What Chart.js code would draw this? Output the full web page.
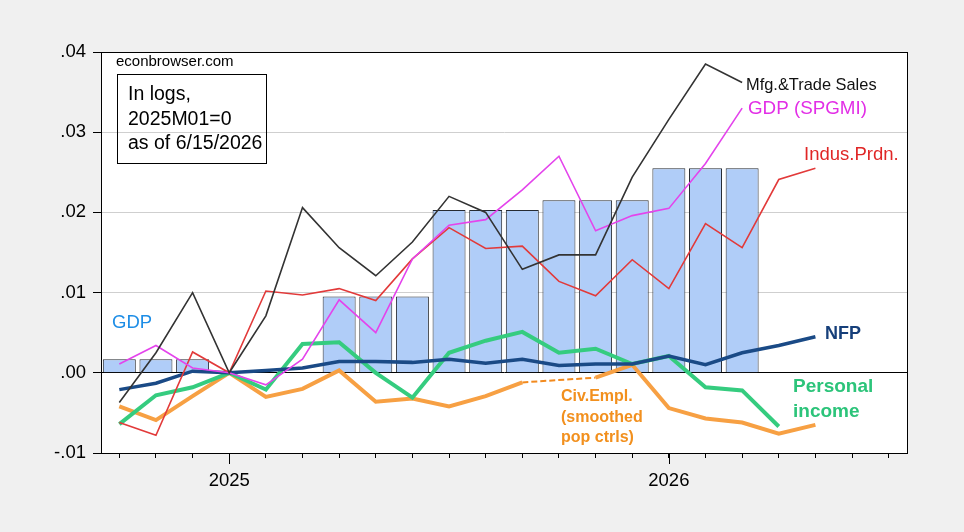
<!DOCTYPE html>
<html>
<head>
<meta charset="utf-8">
<script src="https://cdn.jsdelivr.net/npm/chart.js@4"></script>
<style>
  html, body { margin: 0; padding: 0; background: #f0f0f0; }
  canvas { display: block; }
</style>
</head>
<body>
<canvas id="chart" width="964" height="532"></canvas>
<script>
// months shown, in logs relative to 2025M01
const months = ['2024M10', '2024M11', '2024M12', '2025M01', '2025M02', '2025M03', '2025M04', '2025M05',
  '2025M06', '2025M07', '2025M08', '2025M09', '2025M10', '2025M11', '2025M12', '2026M01', '2026M02',
  '2026M03', '2026M04', '2026M05', '2026M06', '2026M07'];

const yTicks = [-0.01, 0.00, 0.01, 0.02, 0.03, 0.04];

// quarterly GDP shown as monthly bars
const gdp = [0.0017, 0.0017, 0.0017, null, null, null, 0.0095, 0.0095, 0.0095, 0.0203, 0.0203, 0.0203,
  0.0215, 0.0215, 0.0215, 0.0255, 0.0255, 0.0255, null, null, null, null];

const mfgSales = [-0.0037, 0.0025, 0.0100, 0.0, 0.0071, 0.0206, 0.0156, 0.0121, 0.0163, 0.0220, 0.0200,
  0.0129, 0.0147, 0.0147, 0.0244, 0.0316, 0.0385, 0.0362, null, null, null, null];

const gdpSpgmi = [0.0011, 0.0034, 0.0006, 0.0, -0.0015, 0.0017, 0.0091, 0.0050, 0.0142, 0.0184, 0.0191,
  0.0228, 0.0270, 0.0177, 0.0196, 0.0205, 0.0261, 0.0330, null, null, null, null];

const indProd = [-0.0062, -0.0078, 0.0026, 0.0, 0.0102, 0.0097, 0.0105, 0.0090, 0.0142, 0.0181, 0.0155,
  0.0158, 0.0114, 0.0096, 0.0141, 0.0105, 0.0186, 0.0156, 0.0241, 0.0255, null, null];

const nfp = [-0.0021, -0.0013, 0.0002, 0.0, 0.0003, 0.0006, 0.0014, 0.0014, 0.0013, 0.0017, 0.0012,
  0.0017, 0.0009, 0.0011, 0.0011, 0.0021, 0.0010, 0.0025, 0.0034, 0.0045, null, null];

const persIncome = [-0.0064, -0.0028, -0.0018, 0.0, -0.0021, 0.0036, 0.0038, 0.0000, -0.0031, 0.0025, 0.0040,
  0.0051, 0.0025, 0.0030, 0.0011, 0.0021, -0.0018, -0.0022, -0.0067, null, null, null];

const civEmpl = [-0.0042, -0.0059, -0.0029, 0.0, -0.0030, -0.0020, 0.0003, -0.0036, -0.0032, -0.0042, -0.0029,
  -0.0012, null, -0.0006, 0.0010, -0.0044, -0.0057, -0.0062, -0.0076, -0.0065, null, null];

// dashed bridge over the missing civ. employment month
const civEmplGap = civEmpl.map((v, i) => (i === 11 || i === 13) ? v : null);

const notes = [
  { text: 'econbrowser.com', x: 116, y: 62, color: '#000', font: '15px "Liberation Sans", Arial' },
  { text: 'In logs,', x: 128, y: 95, color: '#000', font: '19.5px "Liberation Sans", Arial' },
  { text: '2025M01=0', x: 128, y: 119.5, color: '#000', font: '19.5px "Liberation Sans", Arial' },
  { text: 'as of 6/15/2026', x: 128, y: 144, color: '#000', font: '19.5px "Liberation Sans", Arial' },
  { text: 'GDP', x: 112, y: 323, color: '#1d8de6', font: '18.5px "Liberation Sans", Arial' },
  { text: 'Mfg.&Trade Sales', x: 746, y: 85, color: '#111', font: '16.4px "Liberation Sans", Arial' },
  { text: 'GDP (SPGMI)', x: 748, y: 109, color: '#e22ee6', font: '18.8px "Liberation Sans", Arial' },
  { text: 'Indus.Prdn.', x: 804, y: 155, color: '#e02626', font: '18.5px "Liberation Sans", Arial' },
  { text: 'NFP', x: 825, y: 334, color: '#163f7a', font: 'bold 18px "Liberation Sans", Arial' },
  { text: 'Personal', x: 793, y: 387, color: '#2cc47a', font: 'bold 19px "Liberation Sans", Arial' },
  { text: 'income', x: 793, y: 411.5, color: '#2cc47a', font: 'bold 19px "Liberation Sans", Arial' },
  { text: 'Civ.Empl.', x: 561, y: 396.5, color: '#f2901e', font: 'bold 16px "Liberation Sans", Arial' },
  { text: '(smoothed', x: 561, y: 417.5, color: '#f2901e', font: 'bold 16px "Liberation Sans", Arial' },
  { text: 'pop ctrls)', x: 561, y: 438, color: '#f2901e', font: 'bold 16px "Liberation Sans", Arial' }
];

const frame = {
  id: 'frame',
  beforeDraw(chart) {
    const { ctx, chartArea: a } = chart;
    ctx.save();
    ctx.fillStyle = '#f0f0f0';
    ctx.fillRect(0, 0, chart.width, chart.height);
    ctx.fillStyle = '#ffffff';
    ctx.fillRect(a.left, a.top, a.right - a.left, a.bottom - a.top);
    ctx.restore();
  },
  afterDraw(chart) {
    const { ctx, chartArea: a } = chart;
    const xs = chart.scales.x;
    ctx.save();
    ctx.strokeStyle = '#000';
    ctx.lineWidth = 1;
    ctx.strokeRect(Math.round(a.left) + 0.5, Math.round(a.top) + 0.5,
      Math.round(a.right - a.left), Math.round(a.bottom - a.top));
    // longer tick marks at the year starts
    months.forEach((m, i) => {
      if (!m.endsWith('M01')) return;
      const px = Math.round(xs.getPixelForValue(i)) + 0.5;
      ctx.beginPath();
      ctx.moveTo(px, a.bottom);
      ctx.lineTo(px, a.bottom + 11);
      ctx.stroke();
    });
    // box around the note
    ctx.strokeRect(117.5, 74.5, 149, 89);
    ctx.textBaseline = 'middle';
    notes.forEach(n => {
      ctx.font = n.font;
      ctx.fillStyle = n.color;
      ctx.fillText(n.text, n.x, n.y);
    });
    ctx.restore();
  }
};

const lineSet = (data, color, width, order) => ({
  type: 'line', data, borderColor: color, borderWidth: width, pointRadius: 0,
  tension: 0, fill: false, spanGaps: false, order
});

Chart.defaults.font.family = '"Liberation Sans", Arial, sans-serif';
Chart.defaults.color = '#000';

new Chart(document.getElementById('chart'), {
  type: 'bar',
  data: {
    labels: months,
    datasets: [
      {
        type: 'bar', label: 'GDP', data: gdp, backgroundColor: '#b0cdf8', borderColor: '#262b33',
        borderWidth: 1, barPercentage: 0.9, categoryPercentage: 1.0, order: 10
      },
      lineSet(civEmpl, '#f7a043', 4, 6),
      Object.assign(lineSet(civEmplGap, '#f28a1e', 2, 6), { spanGaps: true, borderDash: [6, 3] }),
      lineSet(persIncome, '#35cc7f', 4, 5),
      lineSet(nfp, '#1a4a86', 3.5, 4),
      lineSet(indProd, '#e23a3a', 1.6, 3),
      lineSet(gdpSpgmi, '#e444ec', 1.6, 2),
      lineSet(mfgSales, '#333333', 1.6, 1)
    ]
  },
  options: {
    responsive: false,
    devicePixelRatio: 1,
    animation: false,
    layout: { padding: { left: 0, top: 52, right: 57, bottom: 0 } },
    plugins: { legend: { display: false }, tooltip: { enabled: false } },
    scales: {
      x: {
        type: 'category',
        offset: true,
        afterFit: s => { s.height = 79; },
        grid: { offset: false, drawOnChartArea: false, tickLength: 5, color: '#000', tickColor: '#000' },
        border: { display: true, color: '#000' },
        ticks: {
          autoSkip: false, maxRotation: 0, padding: 12,
          font: { size: 18.5 },
          callback: (v, i) => months[i].endsWith('M01') ? months[i].slice(0, 4) : ''
        }
      },
      y: {
        min: yTicks[0],
        max: yTicks[yTicks.length - 1],
        afterFit: s => { s.width = 101; },
        afterBuildTicks: s => { s.ticks = yTicks.map(v => ({ value: v })); },
        grid: {
          tickLength: 8,
          tickColor: '#000',
          color: c => Math.abs(c.tick.value) < 1e-9 ? '#000' : '#cfcfcf'
        },
        border: { display: true, color: '#000' },
        ticks: {
          padding: 7,
          font: { size: 18.5 },
          callback: v => v.toFixed(2).replace('0.', '.')
        }
      }
    }
  },
  plugins: [frame]
});
</script>
</body>
</html>
